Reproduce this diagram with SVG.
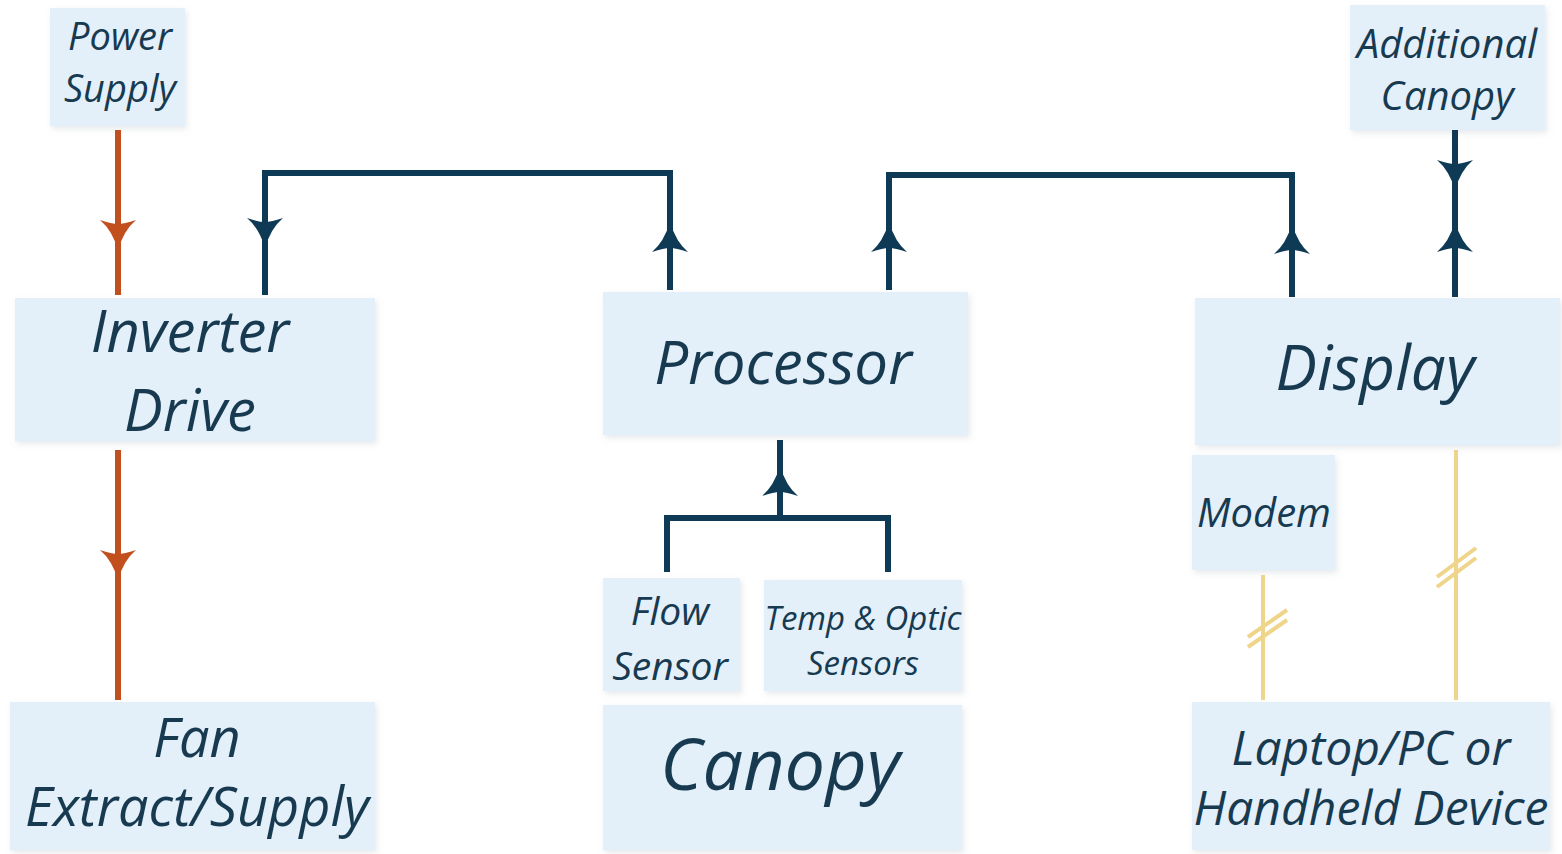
<svg xmlns="http://www.w3.org/2000/svg" width="1562" height="854" viewBox="0 0 1562 854">
<defs>
<style>
.box{fill:#e3eff9;filter:url(#sh)}
.t{font-family:"Open Sans","Noto Sans",sans-serif;font-style:italic;fill:#173a50;text-anchor:middle}
.dk{stroke:#0f3a55;stroke-width:6;fill:none}
.or{stroke:#c2501f;stroke-width:6;fill:none}
.ye{stroke:#efd58a;stroke-width:4;fill:none}
</style>
<filter id="sh" x="-5%" y="-5%" width="110%" height="115%">
<feDropShadow dx="2" dy="3" stdDeviation="3" flood-color="#9aa8b4" flood-opacity="0.25"/>
</filter>
<path id="up" d="M0,0 Q6,20 18,30 Q6,26 0,26 Q-6,26 -18,30 Q-6,20 0,0 Z"/>
</defs>
<rect width="1562" height="854" fill="#ffffff"/>

<g id="power-supply"><rect class="box" x="50" y="8" width="135" height="118"/>
<text class="t" x="120" y="50" font-size="38">Power</text><text class="t" x="120" y="102" font-size="38">Supply</text></g>

<g id="inverter-drive"><rect class="box" x="15" y="298" width="360" height="143"/>
<text class="t" x="190" y="352" font-size="58">Inverter</text><text class="t" x="190" y="431" font-size="58">Drive</text></g>

<g id="fan"><rect class="box" x="10" y="702" width="365" height="148"/>
<text class="t" x="197" y="757" font-size="54">Fan</text><text class="t" x="197" y="826" font-size="54">Extract/Supply</text></g>

<g id="processor"><rect class="box" x="603" y="292" width="365" height="143"/>
<text class="t" x="783" y="384" font-size="60">Processor</text></g>

<g id="flow-sensor"><rect class="box" x="603" y="578" width="137" height="113"/>
<text class="t" x="670" y="625" font-size="39">Flow</text><text class="t" x="670" y="680" font-size="39">Sensor</text></g>

<g id="temp-optic"><rect class="box" x="764" y="580" width="198" height="111"/>
<text class="t" x="863" y="630" font-size="33">Temp &amp; Optic</text><text class="t" x="863" y="675" font-size="33">Sensors</text></g>

<g id="canopy"><rect class="box" x="603" y="705" width="359" height="145"/>
<text class="t" x="780" y="790" font-size="72">Canopy</text></g>

<g id="additional-canopy"><rect class="box" x="1350" y="5" width="195" height="125"/>
<text class="t" x="1447" y="58" font-size="40">Additional</text><text class="t" x="1447" y="110" font-size="40">Canopy</text></g>

<g id="display"><rect class="box" x="1195" y="298" width="365" height="147"/>
<text class="t" x="1375" y="390" font-size="62">Display</text></g>

<g id="modem"><rect class="box" x="1192" y="455" width="143" height="115"/>
<text class="t" x="1264" y="527" font-size="40">Modem</text></g>

<g id="laptop"><rect class="box" x="1192" y="702" width="358" height="148"/>
<text class="t" x="1371" y="765" font-size="48">Laptop/PC or</text><text class="t" x="1371" y="825" font-size="48">Handheld Device</text></g>

<g id="connectors">
<path class="or" d="M118,130 V295"/>
<use href="#up" fill="#c2501f" transform="translate(118,250) rotate(180)"/>
<path class="or" d="M118,450 V700"/>
<use href="#up" fill="#c2501f" transform="translate(118,580) rotate(180)"/>

<path class="dk" d="M670,290 V173 H265 V295"/>
<use href="#up" fill="#0f3a55" transform="translate(265,248) rotate(180)"/>
<use href="#up" fill="#0f3a55" transform="translate(670,222)"/>

<path class="dk" d="M889,290 V175 H1292 V297"/>
<use href="#up" fill="#0f3a55" transform="translate(889,222)"/>
<use href="#up" fill="#0f3a55" transform="translate(1292,224)"/>

<path class="dk" d="M1455,130 V297"/>
<use href="#up" fill="#0f3a55" transform="translate(1455,190) rotate(180)"/>
<use href="#up" fill="#0f3a55" transform="translate(1455,222)"/>

<path class="dk" d="M780,440 V518 M667,572 V518 H888 V572"/>
<use href="#up" fill="#0f3a55" transform="translate(780,466)"/>

<path class="ye" d="M1263,575 V700"/>
<path class="ye" d="M1248,637 L1287,610 M1248,647 L1287,620"/>
<path class="ye" d="M1456,450 V700"/>
<path class="ye" d="M1437,577 L1476,548 M1437,587 L1476,558"/>
</g>
</svg>
